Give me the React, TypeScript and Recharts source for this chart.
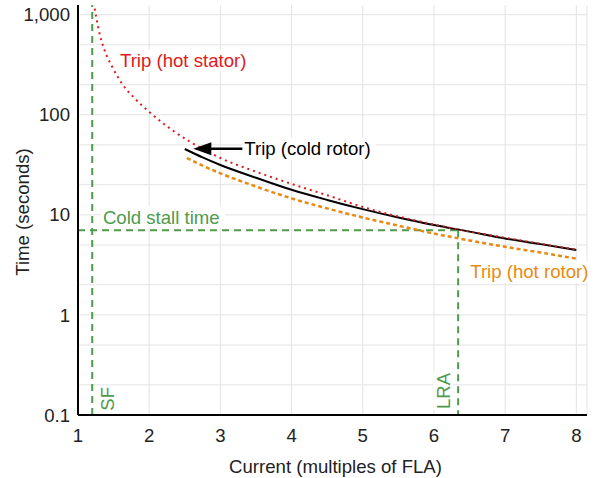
import {
  ComposedChart,
  Line,
  XAxis,
  YAxis,
  CartesianGrid,
  ReferenceDot,
} from "recharts";

const FONT = "Arial, 'Liberation Sans', sans-serif";
const FS = 18.6;
const RED = "#e0191c";
const ORANGE = "#e88a10";
const GREEN = "#4f9a4c";

// current in multiples of FLA, time in seconds
const hotStator = [
  { x: 1.22, y: 1320 }, { x: 1.3, y: 660 }, { x: 1.37, y: 447 },
  { x: 1.48, y: 302 }, { x: 1.62, y: 204 }, { x: 1.8, y: 145 },
  { x: 2, y: 107 }, { x: 2.28, y: 74 }, { x: 2.57, y: 54 },
  { x: 3, y: 37 }, { x: 3.5, y: 27 }, { x: 4, y: 20.4 },
  { x: 4.5, y: 15.7 }, { x: 5, y: 12.0 }, { x: 6, y: 8.0 },
  { x: 7, y: 5.9 }, { x: 8, y: 4.5 },
];

const coldRotor = [
  { x: 2.5, y: 45.5 }, { x: 2.75, y: 37.5 }, { x: 3, y: 31.5 },
  { x: 3.5, y: 23.5 }, { x: 4, y: 17.8 }, { x: 4.5, y: 14.1 },
  { x: 5, y: 11.4 }, { x: 5.5, y: 9.4 }, { x: 6, y: 7.9 },
  { x: 6.5, y: 6.8 }, { x: 7, y: 5.8 }, { x: 7.5, y: 5.1 }, { x: 8, y: 4.45 },
];

const hotRotor = [
  { x: 2.53, y: 37 }, { x: 2.75, y: 31 }, { x: 3, y: 26 },
  { x: 3.5, y: 19.2 }, { x: 4, y: 14.6 }, { x: 4.5, y: 11.6 },
  { x: 5, y: 9.4 }, { x: 5.5, y: 7.8 }, { x: 6, y: 6.5 },
  { x: 6.5, y: 5.55 }, { x: 7, y: 4.8 }, { x: 7.5, y: 4.2 }, { x: 8, y: 3.65 },
];

const serviceFactor = 1.2;
const lockedRotorAmps = 6.34;
const coldStallTime = 7;

const xTicks = [1, 2, 3, 4, 5, 6, 7, 8];
const yTicks = [0.1, 1, 10, 100, 1000];
const yGrid = [
  0.1, 0.2, 0.3, 0.4, 0.5, 0.6, 0.7, 0.8, 0.9,
  1, 2, 3, 4, 5, 6, 7, 8, 9,
  10, 20, 30, 40, 50, 60, 70, 80, 90,
  100, 200, 300, 400, 500, 600, 700, 800, 900, 1000,
];

const sfLine = [
  { x: serviceFactor, y: 0.1 },
  { x: serviceFactor, y: 1250 },
];
const stallLine = [
  { x: 1, y: coldStallTime },
  { x: lockedRotorAmps, y: coldStallTime },
];
const lraLine = [
  { x: lockedRotorAmps, y: coldStallTime },
  { x: lockedRotorAmps, y: 0.1 },
];

const notes = [
  { x: 1.59, y: 347, text: "Trip (hot stator)", color: RED, w: 132, rotate: false },
  { x: 1.35, y: 9.5, text: "Cold stall time", color: GREEN, w: 124, rotate: false },
  { x: 6.51, y: 2.69, text: "Trip (hot rotor)", color: ORANGE, w: 124, rotate: false },
  { x: 1.41, y: 0.145, text: "SF", color: GREEN, w: 26, rotate: true },
  { x: 6.13, y: 0.174, text: "LRA", color: GREEN, w: 38, rotate: true },
];

const arrowTip = { x: 2.62, y: 45.7 };

function Note(props: any) {
  const { cx, cy, text, color, w, rotate } = props;
  if (rotate) {
    return (
      <g transform={`rotate(-90 ${cx} ${cy})`}>
        <rect x={cx - w / 2} y={cy - 10} width={w} height={20} fill="#fff" />
        <text x={cx} y={cy} dy="0.35em" textAnchor="middle" fill={color}
          fontSize={FS} fontFamily={FONT}>{text}</text>
      </g>
    );
  }
  return (
    <g>
      <rect x={cx - 2} y={cy - 11} width={w} height={22} fill="#fff" />
      <text x={cx} y={cy} dy="0.35em" fill={color} fontSize={FS} fontFamily={FONT}>
        {text}
      </text>
    </g>
  );
}

function Arrow(props: any) {
  const { cx, cy } = props;
  return (
    <g>
      <line x1={cx + 12} y1={cy} x2={cx + 50} y2={cy} stroke="#000" strokeWidth={2.5} />
      <polygon points={`${cx},${cy} ${cx + 18},${cy - 6.5} ${cx + 18},${cy + 6.5}`} fill="#000" />
      <rect x={cx + 49} y={cy - 11} width={134} height={22} fill="#fff" />
      <text x={cx + 51} y={cy} dy="0.35em" fill="#000" fontSize={FS} fontFamily={FONT}>
        Trip (cold rotor)
      </text>
    </g>
  );
}

const fmt = (v: number) => v.toLocaleString("en-US");

export default function App() {
  return (
    <div style={{ position: "absolute", left: 0, top: 0 }}>
      <ComposedChart
        width={597}
        height={478}
        margin={{ top: 5, right: 10, left: 0, bottom: 0 }}
      >
        <CartesianGrid stroke="#e3e3e3" horizontalValues={yGrid} />
        <XAxis
          type="number"
          dataKey="x"
          domain={[1, 8.15]}
          ticks={xTicks}
          allowDataOverflow
          height={63}
          tickLine={false}
          tickSize={0}
          tickMargin={14}
          axisLine={{ stroke: "#000", strokeWidth: 2 }}
          tick={{ fill: "#222", fontSize: FS, fontFamily: FONT }}
          label={{
            content: (p: any) => (
              <text x={p.viewBox.x + p.viewBox.width / 2 + 3} y={466} dy="0.35em"
                textAnchor="middle" fill="#222" fontSize={FS} fontFamily={FONT}>
                Current (multiples of FLA)
              </text>
            ),
          }}
        />
        <YAxis
          type="number"
          dataKey="y"
          scale="log"
          domain={[0.1, 1250]}
          ticks={yTicks}
          allowDataOverflow
          width={78}
          tickLine={false}
          tickSize={0}
          tickMargin={8}
          tickFormatter={fmt}
          axisLine={{ stroke: "#000", strokeWidth: 2 }}
          tick={{ fill: "#222", fontSize: FS, fontFamily: FONT }}
          label={{
            content: () => (
              <text x={22} y={212} dy="0.35em" textAnchor="middle"
                transform="rotate(-90 22 212)" fill="#222" fontSize={FS} fontFamily={FONT}>
                Time (seconds)
              </text>
            ),
          }}
        />
        <Line data={sfLine} dataKey="y" stroke={GREEN} strokeWidth={2}
          strokeDasharray="7 5" dot={false} isAnimationActive={false} />
        <Line data={stallLine} dataKey="y" stroke={GREEN} strokeWidth={2}
          strokeDasharray="7 5" dot={false} isAnimationActive={false} />
        <Line data={lraLine} dataKey="y" stroke={GREEN} strokeWidth={2}
          strokeDasharray="7 5" dot={false} isAnimationActive={false} />
        <Line data={hotRotor} dataKey="y" type="monotone" stroke={ORANGE}
          strokeWidth={2.5} strokeDasharray="4 3" dot={false} isAnimationActive={false} />
        <Line data={coldRotor} dataKey="y" type="monotone" stroke="#000"
          strokeWidth={2} dot={false} isAnimationActive={false} />
        <Line data={hotStator} dataKey="y" type="monotone" stroke={RED}
          strokeWidth={2} strokeDasharray="2 4" dot={false} isAnimationActive={false} />
        {notes.map((n) => (
          <ReferenceDot key={n.text} x={n.x} y={n.y} r={0}
            shape={(p: any) => <Note {...p} {...n} />} />
        ))}
        <ReferenceDot x={arrowTip.x} y={arrowTip.y} r={0} shape={(p: any) => <Arrow {...p} />} />
      </ComposedChart>
    </div>
  );
}
